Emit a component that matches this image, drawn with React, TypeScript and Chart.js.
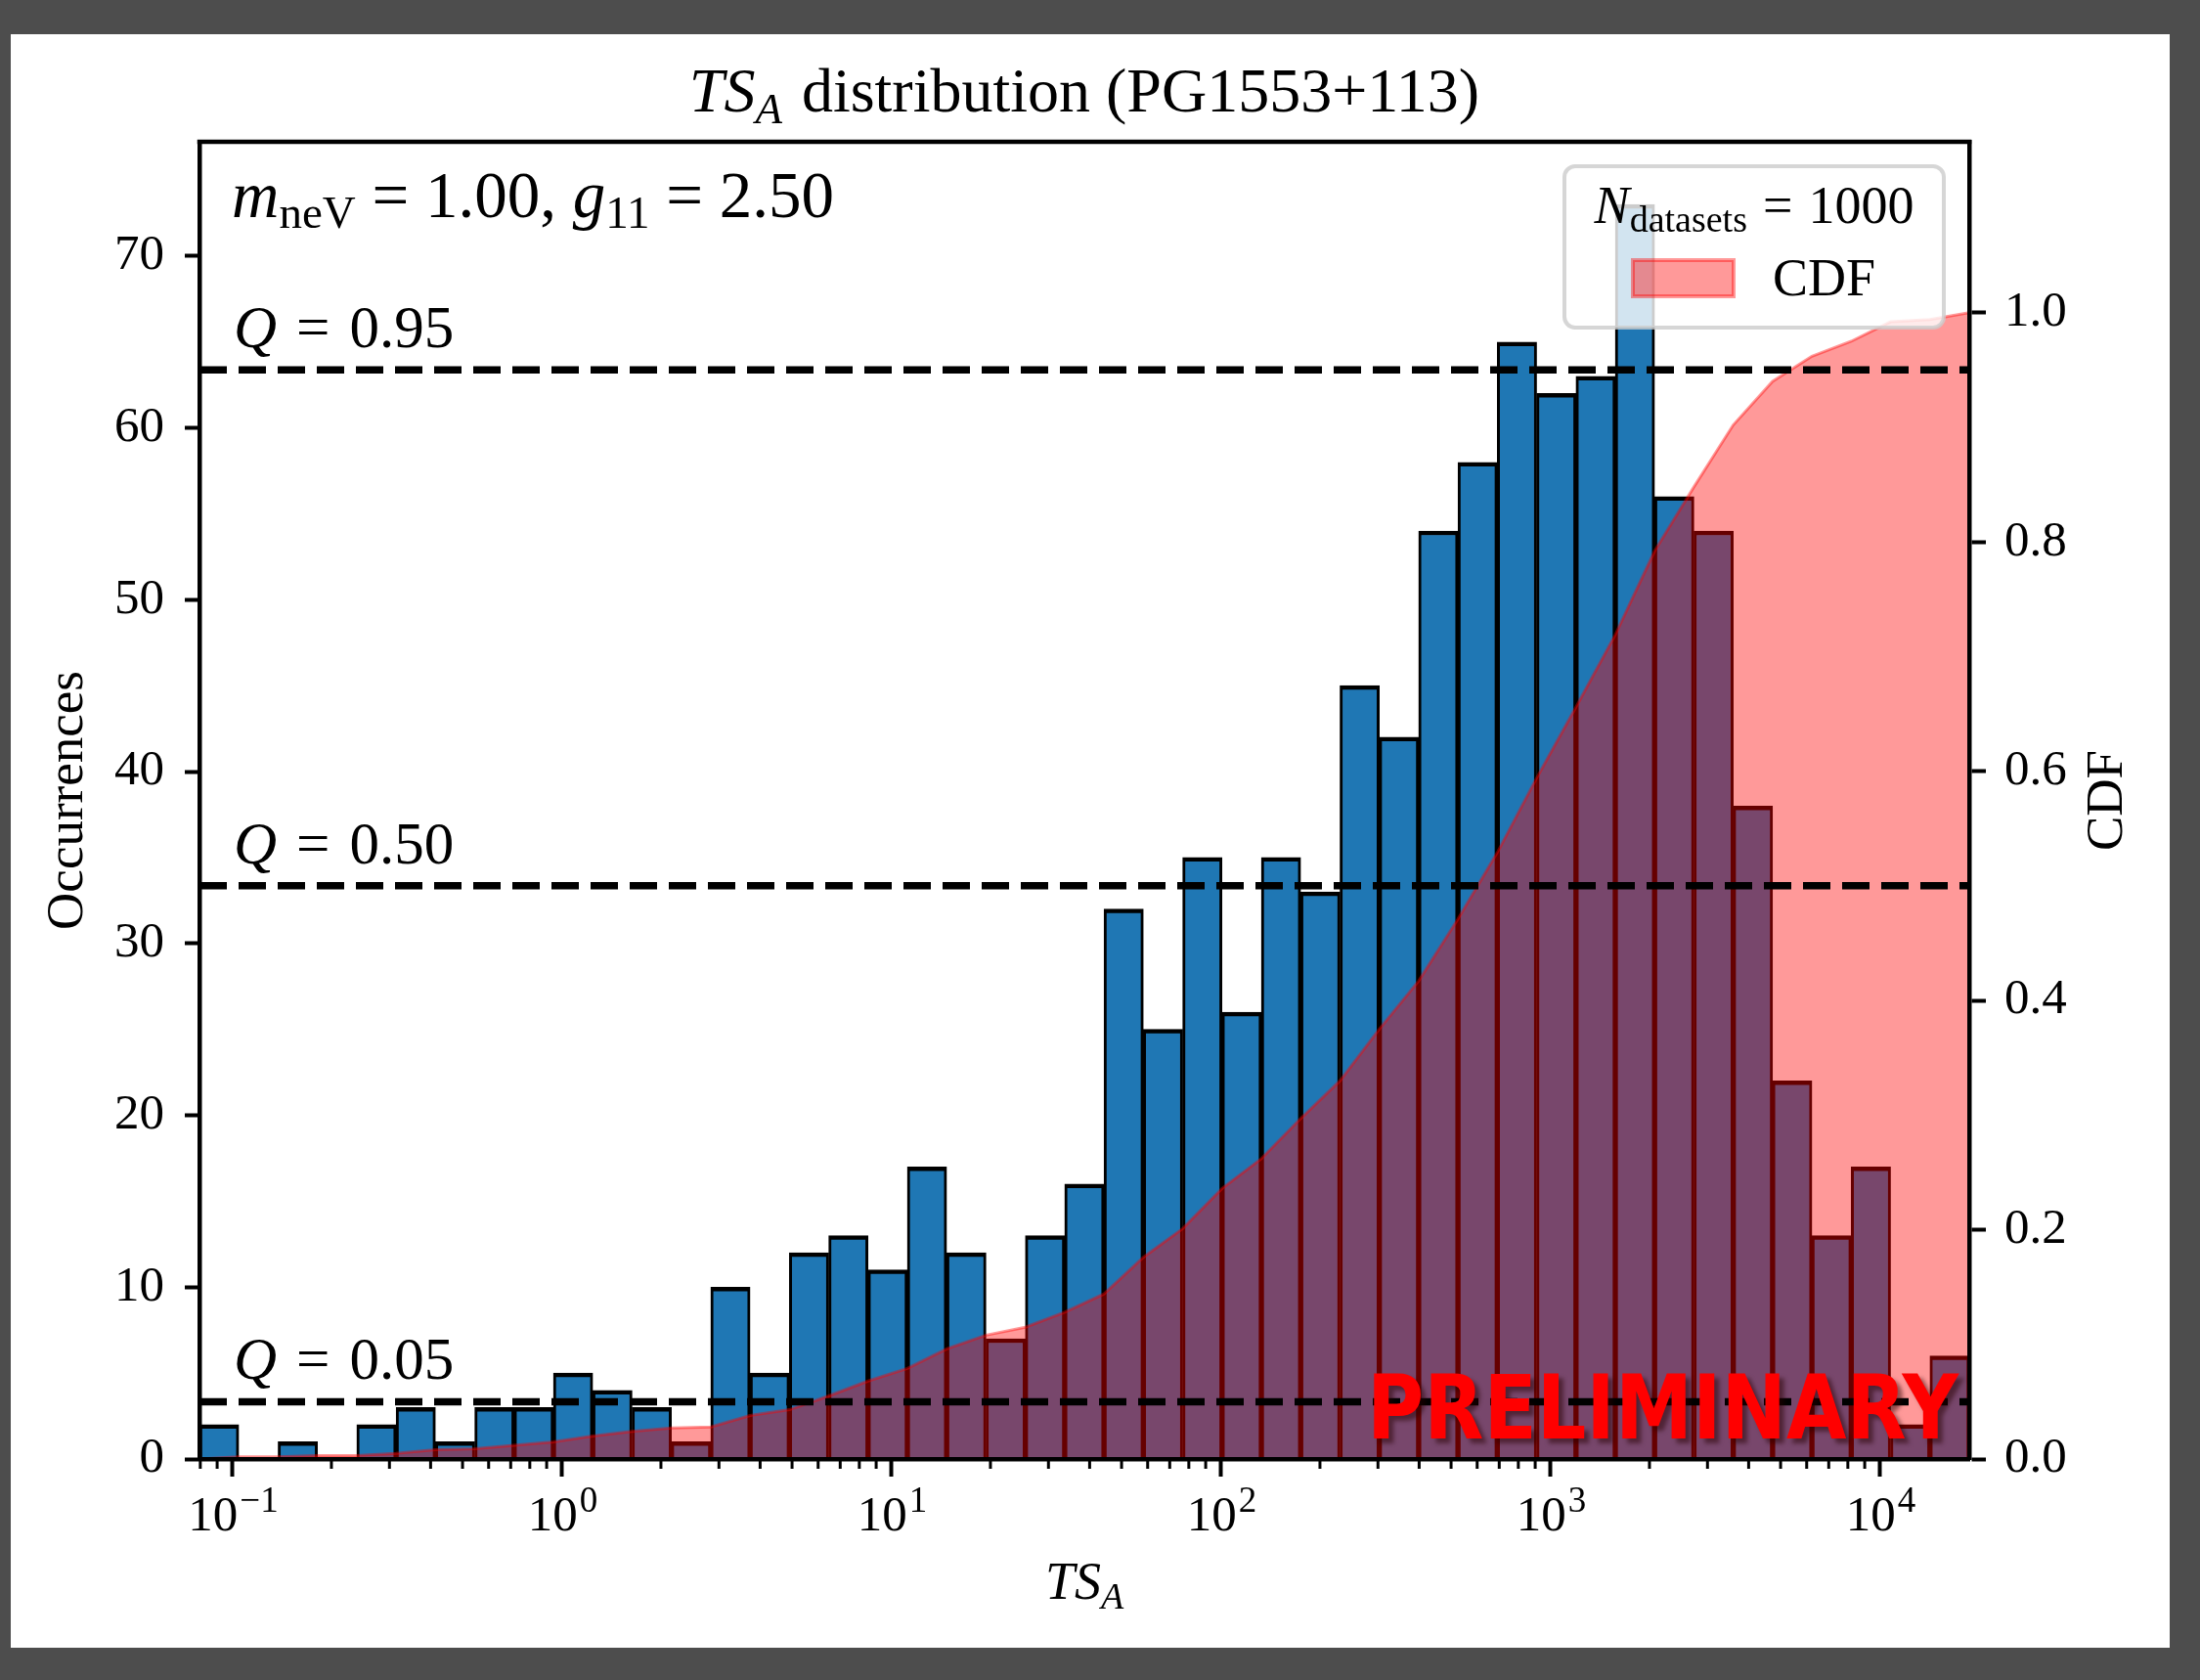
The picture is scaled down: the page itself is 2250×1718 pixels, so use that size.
import React, { useEffect, useRef } from "react";
import { Chart, registerables } from "chart.js";

Chart.register(...registerables);

// ---------------- data ----------------
// log-spaced histogram bin edges (46 edges -> 45 bins)
const BIN_EDGES: number[] = [
  0.07954, 0.1047, 0.1378, 0.1814, 0.2388, 0.3143, 0.4137, 0.5446, 0.7168, 0.9436,
  1.242, 1.635, 2.152, 2.833, 3.729, 4.908, 6.46, 8.504, 11.19, 14.73,
  19.39, 25.53, 33.6, 44.23, 58.22, 76.64, 100.9, 132.8, 174.8, 230.1,
  302.8, 398.6, 524.7, 690.6, 909.1, 1197, 1575, 2073, 2729, 3592,
  4728, 6224, 8193, 10784, 14195, 18685,
];
// occurrences per bin
const COUNTS: number[] = [
  2, 0, 1, 0, 2, 3, 1, 3, 3, 5, 4, 3, 1, 10, 5, 12, 13, 11, 17, 12, 7, 13, 16,
  32, 25, 35, 26, 35, 33, 45, 42, 54, 58, 65, 62, 63, 73, 56, 54, 38, 22, 13, 17, 2, 6,
];
// CDF at each bin edge
const CDF: number[] = [
  0, 0.002, 0.002, 0.003, 0.003, 0.005, 0.008, 0.009, 0.012, 0.015, 0.02, 0.024,
  0.027, 0.028, 0.038, 0.043, 0.055, 0.068, 0.079, 0.096, 0.108, 0.115, 0.128,
  0.144, 0.176, 0.201, 0.236, 0.262, 0.297, 0.33, 0.375, 0.417, 0.471, 0.529,
  0.594, 0.656, 0.719, 0.792, 0.848, 0.902, 0.94, 0.962, 0.975, 0.992, 0.994, 1.0,
];
const Q_LEVELS: number[] = [0.05, 0.5, 0.95];
const Q_LABELS: string[] = ["0.05", "0.50", "0.95"];
const X_MAJOR_TICKS: number[] = [0.1, 1, 10, 100, 1000, 10000];
const Y_MAX = 76.65;
const Y2_MAX = 1.149;
const N_DATASETS = 1000;
const M_NEV = "1.00";
const G_11 = "2.50";

// ---------------- layout / style ----------------
const W = 2250;
const H = 1718;
const AREA = { left: 204, right: 2014, top: 145, bottom: 1492 };
const SERIF = "'Liberation Serif', 'Times New Roman', serif";
const BLUE = "#1f77b4";

type Seg = { t: string; size: number; italic?: boolean; dy?: number; gap?: number };

function drawRich(
  ctx: CanvasRenderingContext2D,
  segs: Seg[],
  x: number,
  y: number,
  align: "left" | "center" | "right"
) {
  const font = (s: Seg) => `${s.italic ? "italic " : ""}${s.size}px ${SERIF}`;
  const widths = segs.map((s) => {
    ctx.font = font(s);
    return ctx.measureText(s.t).width + (s.gap || 0);
  });
  const total = widths.reduce((a, b) => a + b, 0);
  let cx = align === "left" ? x : align === "center" ? x - total / 2 : x - total;
  ctx.textAlign = "left";
  ctx.textBaseline = "alphabetic";
  segs.forEach((s, i) => {
    ctx.font = font(s);
    ctx.fillText(s.t, cx + (s.gap || 0), y + (s.dy || 0));
    cx += widths[i];
  });
}

function roundRectPath(ctx: CanvasRenderingContext2D, x: number, y: number, w: number, h: number, r: number) {
  ctx.beginPath();
  ctx.moveTo(x + r, y);
  ctx.lineTo(x + w - r, y);
  ctx.arcTo(x + w, y, x + w, y + r, r);
  ctx.lineTo(x + w, y + h - r);
  ctx.arcTo(x + w, y + h, x + w - r, y + h, r);
  ctx.lineTo(x + r, y + h);
  ctx.arcTo(x, y + h, x, y + h - r, r);
  ctx.lineTo(x, y + r);
  ctx.arcTo(x, y, x + r, y, r);
  ctx.closePath();
}

const framePlugin = {
  id: "frame",
  beforeDraw(chart: any) {
    const ctx = chart.ctx as CanvasRenderingContext2D;
    ctx.save();
    ctx.fillStyle = "#4d4d4d";
    ctx.fillRect(0, 0, W, H);
    ctx.fillStyle = "#ffffff";
    ctx.fillRect(11, 35, 2208, 1650);
    ctx.restore();
  },
};

const overlayPlugin = {
  id: "overlay",
  afterDraw(chart: any) {
    const ctx = chart.ctx as CanvasRenderingContext2D;
    const xs = chart.scales.x;
    const y2 = chart.scales.y2;
    const a = chart.chartArea;
    ctx.save();
    ctx.fillStyle = "#000";
    ctx.strokeStyle = "#000";

    // top spine
    ctx.lineWidth = 4.5;
    ctx.beginPath();
    ctx.moveTo(a.left - 2.25, a.top);
    ctx.lineTo(a.right + 2.25, a.top);
    ctx.stroke();

    // x ticks (major + minor)
    for (let e = -2; e <= 4; e++) {
      for (let k = 1; k <= 9; k++) {
        const v = k * Math.pow(10, e);
        if (v < xs.min || v > xs.max) continue;
        const px = xs.getPixelForValue(v);
        const major = k === 1;
        ctx.lineWidth = major ? 4 : 3;
        ctx.beginPath();
        ctx.moveTo(px, a.bottom + 2);
        ctx.lineTo(px, a.bottom + (major ? 18 : 10));
        ctx.stroke();
      }
    }

    // x tick labels 10^k, placed at the scale's tick pixels
    xs.ticks.forEach((tk: any) => {
      const px = xs.getPixelForValue(tk.value);
      const ex = Math.round(Math.log10(tk.value));
      const exTxt = ex < 0 ? "\u2212" + String(-ex) : String(ex);
      drawRich(
        ctx,
        [
          { t: "10", size: 51 },
          { t: exTxt, size: 37, dy: -19, gap: 2 },
        ],
        px + 1,
        a.bottom + 73,
        "center"
      );
    });

    // Q labels
    Q_LEVELS.forEach((q, i) => {
      const py = y2.getPixelForValue(q);
      drawRich(
        ctx,
        [
          { t: "Q", size: 61, italic: true },
          { t: "=", size: 61, gap: 20 },
          { t: Q_LABELS[i], size: 61, gap: 20 },
        ],
        a.left + 35,
        py - 23,
        "left"
      );
    });

    // parameter annotation
    drawRich(
      ctx,
      [
        { t: "m", size: 67, italic: true },
        { t: "neV", size: 47, dy: 11 },
        { t: " = " + M_NEV + ", ", size: 67 },
        { t: "g", size: 67, italic: true },
        { t: "11", size: 47, dy: 11 },
        { t: " = " + G_11, size: 67 },
      ],
      a.left + 33,
      a.top + 77,
      "left"
    );

    // title
    const cx = (a.left + a.right) / 2;
    drawRich(
      ctx,
      [
        { t: "TS", size: 64, italic: true },
        { t: "A", size: 45, italic: true, dy: 12 },
        { t: " distribution (PG1553+113)", size: 64, gap: 4 },
      ],
      cx,
      114,
      "center"
    );

    // x label
    drawRich(ctx, [{ t: "TS", size: 54, italic: true }, { t: "A", size: 38, italic: true, dy: 10 }], cx, 1635, "center");

    // y labels
    const cy = (a.top + a.bottom) / 2;
    ctx.save();
    ctx.translate(84, cy);
    ctx.rotate(-Math.PI / 2);
    drawRich(ctx, [{ t: "Occurrences", size: 53 }], 0, 0, "center");
    ctx.restore();
    ctx.save();
    ctx.translate(2170, cy);
    ctx.rotate(-Math.PI / 2);
    drawRich(ctx, [{ t: "CDF", size: 53 }], 0, 0, "center");
    ctx.restore();

    // PRELIMINARY stamp
    ctx.save();
    ctx.font = "bold 90px 'DejaVu Sans', sans-serif";
    const tw = ctx.measureText("PRELIMINARY").width;
    const sx = 605 / tw;
    ctx.translate(a.right - 11 - 605, a.bottom - 21);
    ctx.scale(sx, 1);
    ctx.shadowColor = "rgba(40,0,0,0.5)";
    ctx.shadowOffsetX = 5;
    ctx.shadowOffsetY = 5;
    ctx.shadowBlur = 4;
    ctx.fillStyle = "#ff0000";
    ctx.textAlign = "left";
    ctx.textBaseline = "alphabetic";
    ctx.fillText("PRELIMINARY", 0, 0);
    ctx.restore();

    // legend
    const lx = a.right - 414;
    const ly = a.top + 25;
    const lw = 388;
    const lh = 165;
    roundRectPath(ctx, lx, ly, lw, lh, 11);
    ctx.fillStyle = "rgba(255,255,255,0.8)";
    ctx.fill();
    ctx.strokeStyle = "rgba(204,204,204,0.8)";
    ctx.lineWidth = 4;
    ctx.stroke();
    ctx.fillStyle = "#000";
    drawRich(
      ctx,
      [
        { t: "N", size: 54, italic: true },
        { t: "datasets", size: 38, dy: 9 },
        { t: "=", size: 54, gap: 16 },
        { t: String(N_DATASETS), size: 54, gap: 16 },
      ],
      lx + lw / 2,
      ly + 58,
      "center"
    );
    ctx.fillStyle = "rgba(255,0,0,0.4)";
    ctx.fillRect(lx + 70, ly + 96, 103, 37);
    ctx.strokeStyle = "rgba(255,0,0,0.4)";
    ctx.lineWidth = 4;
    ctx.strokeRect(lx + 70, ly + 96, 103, 37);
    ctx.fillStyle = "#000";
    drawRich(ctx, [{ t: "CDF", size: 54 }], lx + 213, ly + 132, "left");

    ctx.restore();
  },
};

export default function App() {
  const ref = useRef<HTMLCanvasElement>(null);

  useEffect(() => {
    const canvas = ref.current;
    if (!canvas) return;

    const centers = COUNTS.map((_, i) => Math.sqrt(BIN_EDGES[i] * BIN_EDGES[i + 1]));
    const xMin = BIN_EDGES[0];
    const xMax = BIN_EDGES[BIN_EDGES.length - 1];

    const datasets: any[] = [
      {
        type: "bar",
        label: "Occurrences",
        data: COUNTS.map((c, i) => ({ x: centers[i], y: c })),
        xAxisID: "x",
        yAxisID: "y",
        backgroundColor: BLUE,
        borderColor: "#000000",
        borderWidth: { top: 4.5, left: 3, right: 3, bottom: 0 },
        borderSkipped: false,
        barThickness: "flex",
        categoryPercentage: 1,
        barPercentage: 1,
        order: 3,
      },
      {
        type: "line",
        label: "CDF",
        data: BIN_EDGES.map((e, i) => ({ x: e, y: CDF[i] })),
        xAxisID: "x",
        yAxisID: "y2",
        fill: "origin",
        backgroundColor: "rgba(255,0,0,0.4)",
        borderColor: "rgba(255,0,0,0.4)",
        borderWidth: 3,
        pointRadius: 0,
        tension: 0,
        order: 2,
      },
      ...Q_LEVELS.map((q, i) => ({
        type: "line",
        label: "Q = " + Q_LABELS[i],
        data: [
          { x: xMin, y: q },
          { x: xMax, y: q },
        ],
        xAxisID: "x",
        yAxisID: "y2",
        fill: false,
        borderColor: "#000000",
        borderWidth: 7.5,
        borderDash: [28, 12],
        borderCapStyle: "butt",
        pointRadius: 0,
        order: 1,
      })),
    ];

    const chart = new Chart(canvas, {
      type: "bar",
      data: { datasets },
      options: {
        responsive: false,
        animation: false,
        devicePixelRatio: 1,
        events: [],
        layout: { padding: { top: AREA.top, left: 0, right: 0, bottom: 0 } },
        plugins: {
          legend: { display: false },
          title: { display: false },
          tooltip: { enabled: false },
        },
        scales: {
          x: {
            type: "logarithmic",
            position: "bottom",
            min: xMin,
            max: xMax,
            offset: false,
            bounds: "data",
            grid: { display: false, drawTicks: true, tickLength: 18, offset: false },
            border: { display: true, color: "#000", width: 4.5, z: 1 },
            ticks: { display: false, autoSkip: false, maxRotation: 0, minRotation: 0 },
            afterBuildTicks: (axis: any) => {
              axis.ticks = X_MAJOR_TICKS.map((v) => ({ value: v }));
            },
            afterFit: (axis: any) => {
              axis.height = H - AREA.bottom;
            },
          },
          y: {
            type: "linear",
            position: "left",
            min: 0,
            max: Y_MAX,
            grid: {
              display: true,
              drawOnChartArea: false,
              drawTicks: true,
              tickLength: 15,
              tickWidth: 4,
              tickColor: "#000",
            },
            border: { display: true, color: "#000", width: 4.5, z: 1 },
            ticks: {
              stepSize: 10,
              includeBounds: false,
              padding: 21,
              color: "#000",
              font: { family: SERIF, size: 51 },
              callback: (v: any) => String(Math.round(Number(v))),
            },
            afterFit: (axis: any) => {
              axis.width = AREA.left;
            },
          },
          y2: {
            type: "linear",
            position: "right",
            min: 0,
            max: Y2_MAX,
            grid: {
              display: true,
              drawOnChartArea: false,
              drawTicks: true,
              tickLength: 17,
              tickWidth: 4,
              tickColor: "#000",
            },
            border: { display: true, color: "#000", width: 4.5, z: 1 },
            ticks: {
              stepSize: 0.2,
              includeBounds: false,
              padding: 19,
              color: "#000",
              font: { family: SERIF, size: 51 },
              callback: (v: any) => Number(v).toFixed(1),
            },
            afterFit: (axis: any) => {
              axis.width = W - AREA.right;
            },
          },
        },
      } as any,
      plugins: [framePlugin, overlayPlugin],
    } as any);

    return () => {
      chart.destroy();
    };
  }, []);

  return (
    <div style={{ position: "fixed", left: 0, top: 0, width: W, height: H }}>
      <canvas ref={ref} width={W} height={H} style={{ display: "block", width: W, height: H }} />
    </div>
  );
}
